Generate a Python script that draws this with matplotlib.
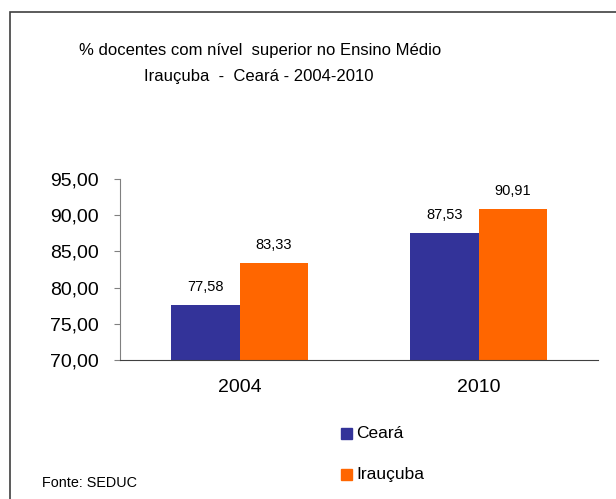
import numpy as np
import matplotlib.pyplot as plt
from matplotlib.patches import Rectangle

plt.rcParams['font.family'] = ['Liberation Sans', 'DejaVu Sans']

# Data
anos = ["2004", "2010"]
ceara = [77.58, 87.53]
iraucuba = [83.33, 90.91]
series_nomes = ["Ceará", "Irauçuba"]
cores = ["#333399", "#FF6600"]


def fmt(v):
    return f"{v:.2f}".replace(".", ",")


W, H = 616, 499
fig = plt.figure(figsize=(W / 100, H / 100), dpi=100)

# outer frame (runs off the right and bottom edges like the original)
fig.patches.append(Rectangle((10 / W, -0.1), 1.2, 1.1 - 12 / H,
                             transform=fig.transFigure, fill=False,
                             edgecolor="#404040", linewidth=1.2))

ax = fig.add_axes([120 / W, 1 - 360 / H, (598 - 120) / W, (360 - 179) / H])

x = np.arange(len(anos))
largura = 0.285
b1 = ax.bar(x - largura / 2, ceara, largura, color=cores[0], label=series_nomes[0])
b2 = ax.bar(x + largura / 2, iraucuba, largura, color=cores[1], label=series_nomes[1])

for barras, vals in ((b1, ceara), (b2, iraucuba)):
    for b, v in zip(barras, vals):
        ax.annotate(fmt(v), (b.get_x() + b.get_width() / 2, v),
                    xytext=(0, 8), textcoords="offset points",
                    ha="center", va="bottom", fontsize=10.5)

ax.set_xlim(-0.5, 1.5)
ax.set_ylim(70, 95)
ax.set_yticks(np.arange(70, 96, 5))
ax.set_yticklabels([fmt(v) for v in np.arange(70, 96, 5)], fontsize=14)
ax.set_xticks(x)
ax.set_xticklabels(anos, fontsize=14)
ax.tick_params(axis="x", length=0, pad=14)
ax.tick_params(axis="y", length=4, width=0.8, color="#808080", pad=11)

for s in ("top", "right"):
    ax.spines[s].set_visible(False)
ax.spines["left"].set_color("#808080")
ax.spines["bottom"].set_color("#404040")

fig.text(260 / W, 1 - 50 / H, "% docentes com nível  superior no Ensino Médio",
         ha="center", va="center", fontsize=12)
fig.text(259 / W, 1 - 77 / H, "Irauçuba  -  Ceará - 2004-2010",
         ha="center", va="center", fontsize=12)

# legend
for nome, cor, y in zip(series_nomes, cores, (433, 474)):
    fig.patches.append(Rectangle((341 / W, 1 - (y + 5.5) / H), 11 / W, 11 / H,
                                 transform=fig.transFigure, color=cor))
    fig.text(356 / W, 1 - y / H, nome, ha="left", va="center", fontsize=12.5)

fig.text(42 / W, 1 - 483 / H, "Fonte: SEDUC", ha="left", va="center", fontsize=10.4)

fig.savefig("out.png", dpi=100)
